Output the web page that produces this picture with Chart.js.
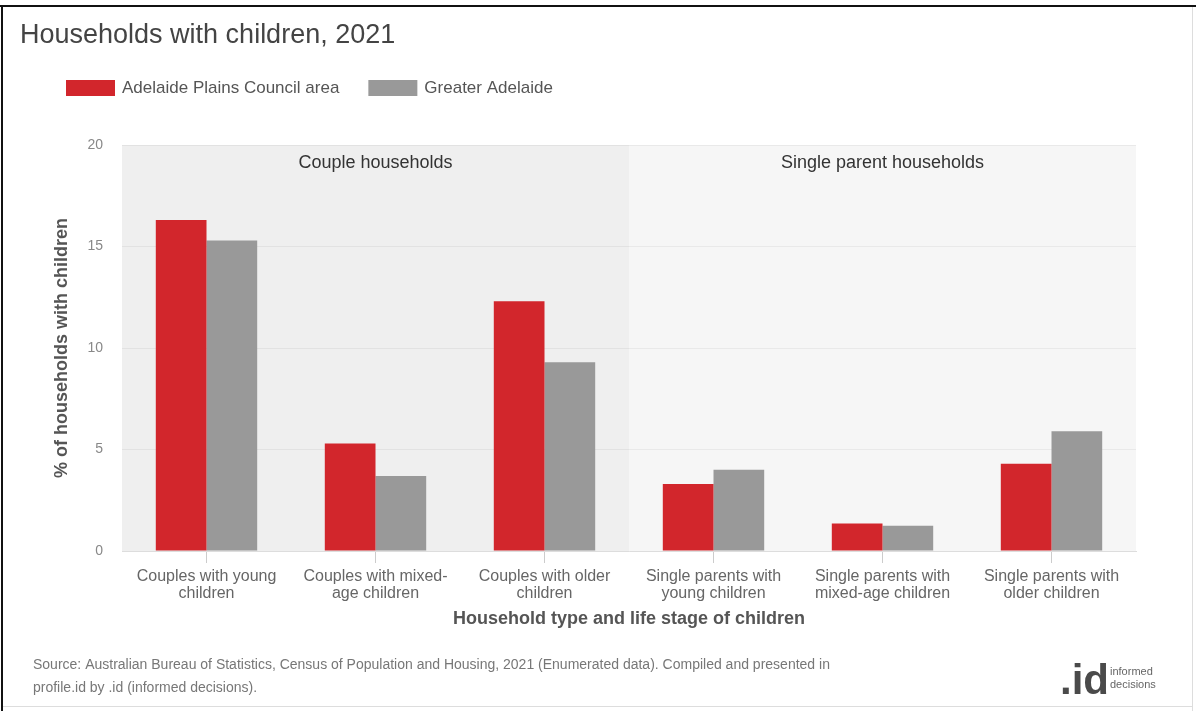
<!DOCTYPE html>
<html>
<head>
<meta charset="utf-8">
<title>Households with children, 2021</title>
<script src="https://cdn.jsdelivr.net/npm/chart.js@4/dist/chart.umd.min.js"></script>
<style>
  html, body { margin: 0; padding: 0; background: #ffffff; }
  #wrap { position: relative; width: 1196px; height: 711px; }
  canvas { display: block; }
</style>
</head>
<body>
<div id="wrap"><canvas id="chart" width="1196" height="711"></canvas></div>
<script>
// Household categories (two-line tick labels)
const categories = [
  ['Couples with young', 'children'],
  ['Couples with mixed-', 'age children'],
  ['Couples with older', 'children'],
  ['Single parents with', 'young children'],
  ['Single parents with', 'mixed-age children'],
  ['Single parents with', 'older children']
];

// % of households with children, 2021
const adelaidePlains = [16.3, 5.3, 12.3, 3.3, 1.35, 4.3];
const greaterAdelaide = [15.3, 3.7, 9.3, 4.0, 1.25, 5.9];

const seriesNames = ['Adelaide Plains Council area', 'Greater Adelaide'];
const yTicks = [0, 5, 10, 15, 20];

// Household type groups (category index ranges)
const groupNames = ['Couple households', 'Single parent households'];
const groupFirst = [0, 3];
const groupLast = [2, 5];

const titleText = 'Households with children, 2021';
const xTitle = 'Household type and life stage of children';
const yTitle = '% of households with children';
const sourceLines = [
  'Source: Australian Bureau of Statistics, Census of Population and Housing, 2021 (Enumerated data). Compiled and presented in',
  'profile.id by .id (informed decisions).'
];

const FONT = '"Liberation Sans", Arial, Helvetica, sans-serif';
const RED = '#d2262c';
const GREY = '#999999';
const groupFills = ['#efefef', '#f6f6f6'];

Chart.defaults.font.family = FONT;

// Shaded group panels behind the bars, plus their headings
const groupPanels = {
  id: 'groupPanels',
  beforeDraw(chart) {
    const { ctx, chartArea, scales: { x } } = chart;
    const half = (x.right - x.left) / categories.length / 2;
    ctx.save();
    groupNames.forEach((name, i) => {
      const x0 = x.getPixelForValue(groupFirst[i]) - half;
      const x1 = x.getPixelForValue(groupLast[i]) + half;
      ctx.fillStyle = groupFills[i];
      ctx.fillRect(x0, chartArea.top, x1 - x0, chartArea.bottom - chartArea.top);
    });
    ctx.restore();
  },
  afterDatasetsDraw(chart) {
    const { ctx, chartArea, scales: { x } } = chart;
    const half = (x.right - x.left) / categories.length / 2;
    ctx.save();
    ctx.font = '18px ' + FONT;
    ctx.fillStyle = '#333333';
    ctx.textAlign = 'center';
    ctx.textBaseline = 'middle';
    groupNames.forEach((name, i) => {
      const x0 = x.getPixelForValue(groupFirst[i]) - half;
      const x1 = x.getPixelForValue(groupLast[i]) + half;
      ctx.fillText(name, (x0 + x1) / 2, chartArea.top + 18);
    });
    ctx.restore();
  }
};

// Title, legend, source note, logo and frame
const decorations = {
  id: 'decorations',
  afterDraw(chart) {
    const { ctx, width, height } = chart;
    ctx.save();

    // frame
    ctx.fillStyle = '#111111';
    ctx.fillRect(0, 5, width, 2);
    ctx.fillRect(1, 5, 2, height - 5);
    ctx.fillStyle = '#dddddd';
    ctx.fillRect(1192, 7, 1, height - 7);
    ctx.fillRect(3, 706, 1189, 1);

    // title
    ctx.font = '27px ' + FONT;
    ctx.fillStyle = '#444444';
    ctx.textAlign = 'left';
    ctx.textBaseline = 'middle';
    ctx.fillText(titleText, 20, 36);

    // legend
    let lx = 66;
    ctx.font = '17px ' + FONT;
    chart.data.datasets.forEach(ds => {
      ctx.fillStyle = ds.backgroundColor;
      ctx.fillRect(lx, 80, 49, 16);
      ctx.fillStyle = '#555555';
      ctx.fillText(ds.label, lx + 56, 88.5);
      lx += 56 + ctx.measureText(ds.label).width + 29;
    });

    // source note
    ctx.font = '14px ' + FONT;
    ctx.fillStyle = '#777777';
    ctx.fillText(sourceLines[0], 33, 665);
    ctx.fillText(sourceLines[1], 33, 688);

    // logo
    ctx.font = 'bold 42px ' + FONT;
    ctx.fillStyle = '#4a4a4a';
    ctx.textBaseline = 'alphabetic';
    ctx.fillText('.id', 1060, 694);
    ctx.font = '11px ' + FONT;
    ctx.fillStyle = '#666666';
    ctx.fillText('informed', 1110, 675);
    ctx.fillText('decisions', 1110, 688);

    ctx.restore();
  }
};

new Chart(document.getElementById('chart'), {
  type: 'bar',
  data: {
    labels: categories,
    datasets: [
      { label: seriesNames[0], data: adelaidePlains, backgroundColor: RED,
        categoryPercentage: 0.6, barPercentage: 1.0 },
      { label: seriesNames[1], data: greaterAdelaide, backgroundColor: GREY,
        categoryPercentage: 0.6, barPercentage: 1.0 }
    ]
  },
  options: {
    responsive: false,
    animation: false,
    layout: { padding: { left: 51, right: 60, top: 145, bottom: 81 } },
    plugins: {
      legend: { display: false },
      title: { display: false },
      tooltip: { enabled: false }
    },
    scales: {
      x: {
        afterFit(scale) { scale.height = 79; },
        grid: { drawOnChartArea: false, offset: false, color: '#cccccc', tickLength: 12 },
        border: { display: true, color: '#dddddd' },
        ticks: { color: '#666666', font: { size: 16, lineHeight: 1.07 }, padding: 5, maxRotation: 0 },
        title: { display: true, text: xTitle, color: '#555555',
                 font: { size: 18, weight: 'bold' }, padding: { top: 4, bottom: 0 } }
      },
      y: {
        min: 0, max: 20,
        afterFit(scale) { scale.width = 71; },
        afterBuildTicks(scale) { scale.ticks = yTicks.map(v => ({ value: v })); },
        grid: { color: 'rgba(0,0,0,0.05)', drawTicks: false },
        border: { display: false },
        ticks: { color: '#888888', font: { size: 14 }, padding: 19 },
        title: { display: true, text: yTitle, color: '#555555',
                 font: { size: 18, weight: 'bold' }, padding: 0 }
      }
    }
  },
  plugins: [groupPanels, decorations]
});
</script>
</body>
</html>
